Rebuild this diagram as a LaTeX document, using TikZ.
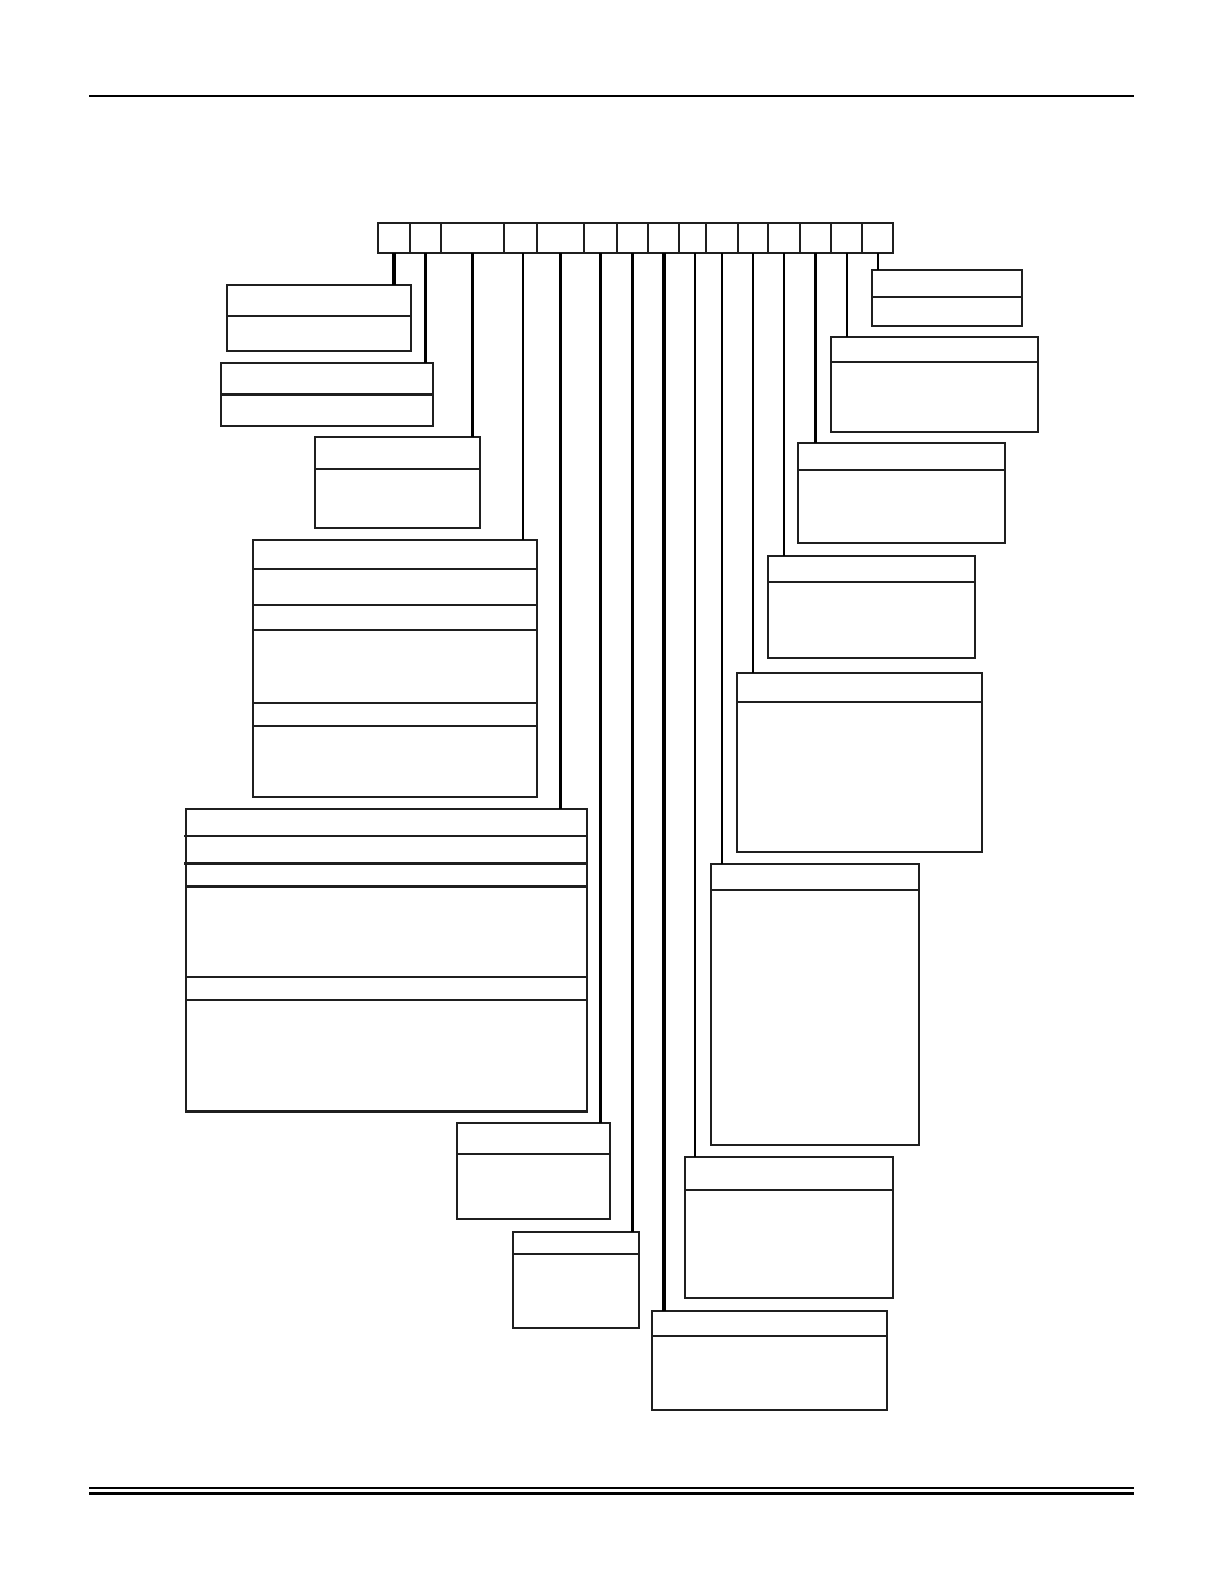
\documentclass[tikz,border=0pt]{standalone}
\usetikzlibrary{fit}
\begin{document}
\begin{tikzpicture}[x=0.5pt,y=-0.5pt,
  box/.style={draw=black!88, line width=1.1pt, inner sep=0pt, outer sep=0pt, rectangle},
  cell/.style={draw=black!88, line width=1.1pt, inner sep=0pt, outer sep=0pt, rectangle},
  div/.style={draw=black!88, line width=1.1pt},
  thickdiv/.style={draw=black!88, line width=1.5pt},
  link/.style={draw=black, line width=1.1pt},
  thicklink/.style={draw=black, line width=1.7pt}]
\useasboundingbox (0,0) rectangle (1224,1584);
% page rules
\draw[line width=0.9pt] (89,96) -- (1134,96);
\draw[line width=1.4pt] (89,1488) -- (1134,1488);
\draw[line width=1.3pt] (89,1493.5) -- (1134,1493.5);
% top register cells
\node[cell, fit={(378.3,223.3)(410,253.3)}] (c1) {};
\node[cell, fit={(410,223.3)(441,253.3)}] (c2) {};
\node[cell, fit={(441,223.3)(504,253.3)}] (c3) {};
\node[cell, fit={(504,223.3)(536.7,253.3)}] (c4) {};
\node[cell, fit={(536.7,223.3)(584.3,253.3)}] (c5) {};
\node[cell, fit={(584.3,223.3)(616.7,253.3)}] (c6) {};
\node[cell, fit={(616.7,223.3)(648.3,253.3)}] (c7) {};
\node[cell, fit={(648.3,223.3)(679.3,253.3)}] (c8) {};
\node[cell, fit={(679.3,223.3)(706,253.3)}] (c9) {};
\node[cell, fit={(706,223.3)(737.7,253.3)}] (c10) {};
\node[cell, fit={(737.7,223.3)(768.3,253.3)}] (c11) {};
\node[cell, fit={(768.3,223.3)(800,253.3)}] (c12) {};
\node[cell, fit={(800,223.3)(831,253.3)}] (c13) {};
\node[cell, fit={(831,223.3)(862.3,253.3)}] (c14) {};
\node[cell, fit={(862.3,223.3)(893,253.3)}] (c15) {};
% boxes
\node[box, fit={(226.7,285)(411,350.7)}] (b1) {};
\draw[div] (b1.west |- 0,315.7) -- (b1.east |- 0,315.7);
\node[box, fit={(221,362.7)(433,425.7)}] (b2) {};
\draw[thickdiv] (b2.west |- 0,394.3) -- (b2.east |- 0,394.3);
\node[box, fit={(315,436.7)(480,528)}] (b3) {};
\draw[div] (b3.west |- 0,469) -- (b3.east |- 0,469);
\node[box, fit={(252.7,540)(537,796.7)}] (b4) {};
\foreach \yy in {569,605,630,703,726} \draw[div] (b4.west |- 0,\yy) -- (b4.east |- 0,\yy);
\node[box, fit={(186,809)(587,1111.5)}] (b5) {};
\draw[div] (184,835.7) -- (b5.east |- 0,835.7);
\draw[thickdiv] (184,863.3) -- (b5.east |- 0,863.3);
\draw[thickdiv] (b5.west |- 0,886.7) -- (b5.east |- 0,886.7);
\draw[div] (b5.west |- 0,977) -- (b5.east |- 0,977);
\draw[div] (b5.west |- 0,1000) -- (b5.east |- 0,1000);
\node[box, fit={(456.7,1122.7)(610,1219.3)}] (bG) {};
\draw[div] (bG.west |- 0,1154.3) -- (bG.east |- 0,1154.3);
\node[box, fit={(513.3,1231.7)(639,1328.3)}] (bH) {};
\draw[div] (bH.west |- 0,1254.3) -- (bH.east |- 0,1254.3);
\node[box, fit={(651.7,1311)(886.7,1410)}] (bJ) {};
\draw[div] (bJ.west |- 0,1336) -- (bJ.east |- 0,1336);
\node[box, fit={(685,1156.7)(893.3,1297.7)}] (bI) {};
\draw[div] (bI.west |- 0,1190) -- (bI.east |- 0,1190);
\node[box, fit={(710.7,864.3)(919.3,1145)}] (bF) {};
\draw[div] (bF.west |- 0,890) -- (bF.east |- 0,890);
\node[box, fit={(736.7,673.3)(982,851.7)}] (bE) {};
\draw[div] (bE.west |- 0,701.7) -- (bE.east |- 0,701.7);
\node[box, fit={(767.7,555.7)(975.3,658.3)}] (bD) {};
\draw[div] (bD.west |- 0,581.7) -- (bD.east |- 0,581.7);
\node[box, fit={(797.7,442.7)(1005,543.3)}] (bC) {};
\draw[div] (bC.west |- 0,470) -- (bC.east |- 0,470);
\node[box, fit={(830.7,336.7)(1037.7,431.7)}] (bB) {};
\draw[div] (bB.west |- 0,361.7) -- (bB.east |- 0,361.7);
\node[box, fit={(871.7,270)(1021.7,325.7)}] (bA) {};
\draw[div] (bA.west |- 0,296.7) -- (bA.east |- 0,296.7);
% connectors
\draw[thicklink] (c1.south) -- (c1.south |- b1.north);
\draw[link] (c2.south) -- (c2.south |- b2.north);
\draw[link] (c3.south) -- (c3.south |- b3.north);
\draw[link] ([xshift=1.5pt]c4.south) -- ([xshift=1.5pt]c4.south |- b4.north);
\draw[link] (c5.south) -- (c5.south |- b5.north);
\draw[link] (c6.south) -- (c6.south |- bG.north);
\draw[link] (c7.south) -- (c7.south |- bH.north);
\draw[thicklink] (c8.south) -- (c8.south |- bJ.north);
\draw[link] ([xshift=1pt]c9.south) -- ([xshift=1pt]c9.south |- bI.north);
\draw[link] (c10.south) -- (c10.south |- bF.north);
\draw[link] (c11.south) -- (c11.south |- bE.north);
\draw[link] (c12.south) -- (c12.south |- bD.north);
\draw[link] (c13.south) -- (c13.south |- bC.north);
\draw[link] (c14.south) -- (c14.south |- bB.north);
\draw[link] (c15.south) -- (c15.south |- bA.north);
\end{tikzpicture}
\end{document}
